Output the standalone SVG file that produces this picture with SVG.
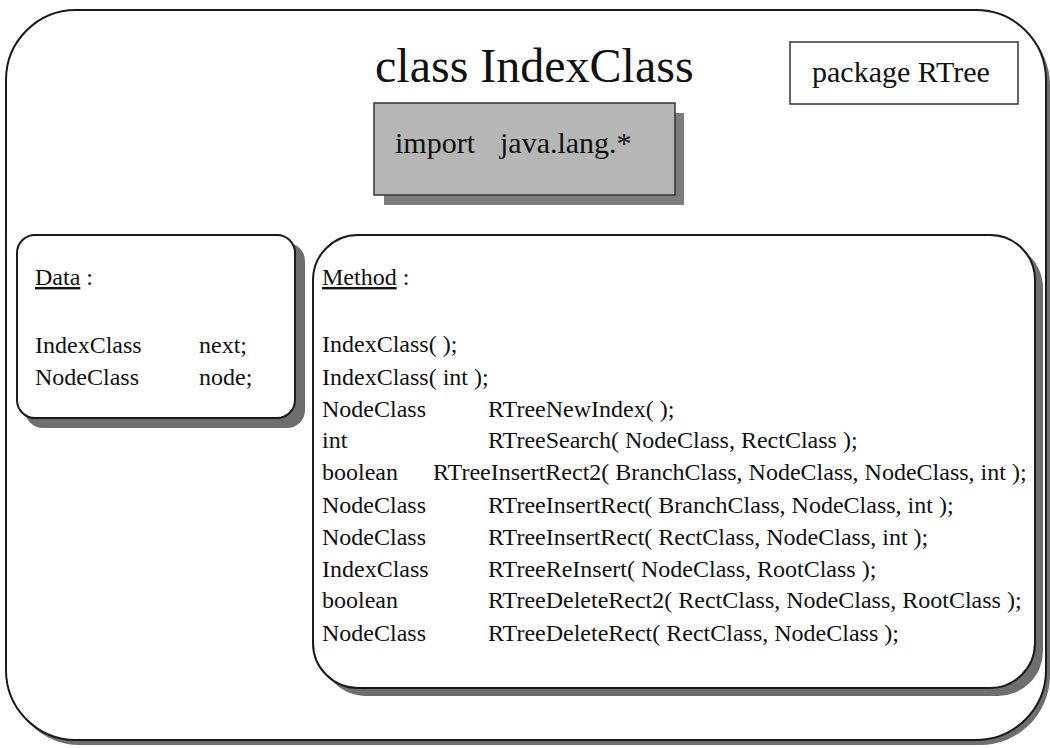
<svg xmlns="http://www.w3.org/2000/svg" width="1050" height="748" viewBox="0 0 1050 748">
  <style>
    .frame { fill: #ffffff; stroke: #1a1a1a; stroke-width: 2; }
    .shadow { fill: #6e6e6e; stroke: none; }
    .txt { font-family: "Liberation Serif", "Times New Roman", serif; fill: #111111; }
    .body { font-size: 24px; }
    .ul { text-decoration: underline; }
  </style>
  <rect width="1050" height="748" fill="#ffffff"/>

  <!-- outer class container -->
  <g id="class-frame">
    <rect class="shadow" x="10" y="15" width="1040" height="730" rx="70" ry="70"/>
    <rect class="frame" x="6" y="10" width="1040" height="730" rx="70" ry="70"/>
    <text class="txt" x="375" y="82" font-size="48">class IndexClass</text>
  </g>

  <!-- package label -->
  <g id="package">
    <rect x="790" y="42" width="228" height="62" fill="#ffffff" stroke="#333333" stroke-width="1.5"/>
    <text class="txt" x="812" y="82" font-size="30">package RTree</text>
  </g>

  <!-- import statement -->
  <g id="import">
    <rect x="384" y="113" width="300" height="92" fill="#7d7d7d"/>
    <rect x="374" y="103" width="301" height="92" fill="#b6b6b6" stroke="#333333" stroke-width="1.5"/>
    <text class="txt" x="395" y="153" font-size="30">import</text>
    <text class="txt" x="500" y="153" font-size="30">java.lang.*</text>
  </g>

  <!-- data members -->
  <g id="data">
    <rect class="shadow" x="25" y="243" width="280" height="185" rx="18" ry="18"/>
    <rect class="frame" x="17" y="235" width="278" height="183" rx="18" ry="18"/>
    <text class="txt body" x="35" y="285"><tspan class="ul">Data</tspan> :</text>
    <text class="txt body" x="35" y="353">IndexClass</text>
    <text class="txt body" x="199" y="353">next;</text>
    <text class="txt body" x="35" y="385">NodeClass</text>
    <text class="txt body" x="199" y="385">node;</text>
  </g>

  <!-- methods -->
  <g id="method">
    <rect class="shadow" x="321" y="243" width="722" height="453" rx="45" ry="45"/>
    <rect class="frame" x="313" y="235" width="722" height="453" rx="45" ry="45"/>
    <text class="txt body" x="322" y="285"><tspan class="ul">Method</tspan> :</text>
    <text class="txt body" x="322" y="352">IndexClass( );</text>
    <text class="txt body" x="322" y="385">IndexClass( int );</text>
    <text class="txt body" x="322" y="417">NodeClass</text>
    <text class="txt body" x="488" y="417">RTreeNewIndex( );</text>
    <text class="txt body" x="322" y="448">int</text>
    <text class="txt body" x="488" y="448">RTreeSearch( NodeClass, RectClass );</text>
    <text class="txt body" x="322" y="480">boolean</text>
    <text class="txt body" x="433" y="480">RTreeInsertRect2( BranchClass, NodeClass, NodeClass, int );</text>
    <text class="txt body" x="322" y="513">NodeClass</text>
    <text class="txt body" x="488" y="513">RTreeInsertRect( BranchClass, NodeClass, int );</text>
    <text class="txt body" x="322" y="545">NodeClass</text>
    <text class="txt body" x="488" y="545">RTreeInsertRect( RectClass, NodeClass, int );</text>
    <text class="txt body" x="322" y="577">IndexClass</text>
    <text class="txt body" x="488" y="577">RTreeReInsert( NodeClass, RootClass );</text>
    <text class="txt body" x="322" y="608">boolean</text>
    <text class="txt body" x="488" y="608">RTreeDeleteRect2( RectClass, NodeClass, RootClass );</text>
    <text class="txt body" x="322" y="641">NodeClass</text>
    <text class="txt body" x="488" y="641">RTreeDeleteRect( RectClass, NodeClass );</text>
  </g>

  <!-- no connectors in this class layout -->
  <g id="connectors"/>
</svg>
